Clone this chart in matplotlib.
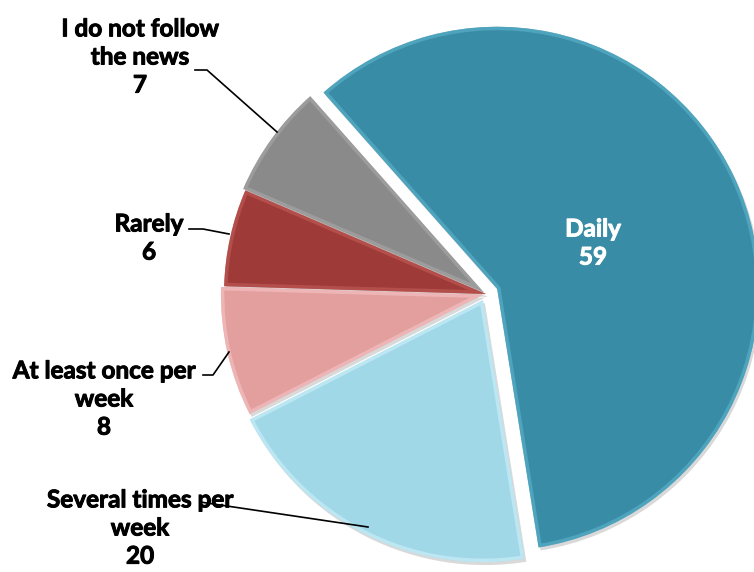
import matplotlib
matplotlib.use("Agg")
import matplotlib.pyplot as plt
from matplotlib.patches import Wedge
import matplotlib.patheffects as pe

# ---- data ----
categories = ["Daily", "Several times per\nweek", "At least once per\nweek",
              "Rarely", "I do not follow\nthe news"]
values = [59, 20, 8, 6, 7]
colors = ["#398CA6", "#A0D8E8", "#E39E9E", "#9E3B38", "#8A8A8A"]
highlights = ["#63BBD4", "#D8F6FC", "#F8CDCD", "#C8625F", "#AEAEAE"]
explode = [0.047, 0.026, 0.012, 0.0, 0.01]

# label layout (pixel coordinates, y from top)
label_pos = [(593, 243), (140, 528), (104, 399), (149, 238), (140, 57)]
label_colors = ["white", "black", "black", "black", "black"]
leaders = [None,
           [(200, 502), (368, 527)],
           [(203, 375), (213, 375), (229, 352)],
           [(189, 229), (203, 229), (229, 234)],
           [(195, 70), (207, 70), (277, 132)]]

W, H = 754, 572
R = 262
plt.rcParams["font.family"] = ["Lato", "DejaVu Sans"]

fig = plt.figure(figsize=(W / 100, H / 100), dpi=100)
ax = fig.add_axes([0, 0, 1, 1])
wedges, _ = ax.pie(values, colors=colors, explode=[e * R for e in explode],
                   startangle=131.5, counterclock=False,
                   center=(486, H - 294), radius=R,
                   wedgeprops=dict(linewidth=0))
for w in wedges:
    w.set_zorder(3)
ax.set_xlim(0, W)
ax.set_ylim(0, H)
ax.set_aspect("equal")
ax.axis("off")

# soft shadows and bevel highlights
for w, hl in zip(wedges, highlights):
    cx, cy = w.center
    sh = Wedge((cx + 2, cy - 3), w.r, w.theta1, w.theta2, facecolor="black",
               alpha=0.15, linewidth=0, zorder=2)
    ax.add_patch(sh)
    bev = Wedge((cx, cy), w.r, w.theta1, w.theta2, fill=False, edgecolor=hl,
                linewidth=5, alpha=0.5, zorder=4)
    ax.add_patch(bev)
    bev.set_clip_path(w)

for cat, v, (x, y), c in zip(categories, values, label_pos, label_colors):
    ax.text(x, H - y, f"{cat}\n{v}", ha="center", va="center", fontsize=17.5,
            fontweight="bold", color=c, linespacing=1.27, zorder=6,
            path_effects=[pe.withStroke(linewidth=0.7, foreground=c)])

for pts in leaders:
    if pts is None:
        continue
    xs = [p[0] for p in pts]
    ys = [H - p[1] for p in pts]
    ax.plot(xs, ys, color="black", linewidth=1.2, zorder=5)

fig.savefig("out.png", dpi=100, facecolor="white")
